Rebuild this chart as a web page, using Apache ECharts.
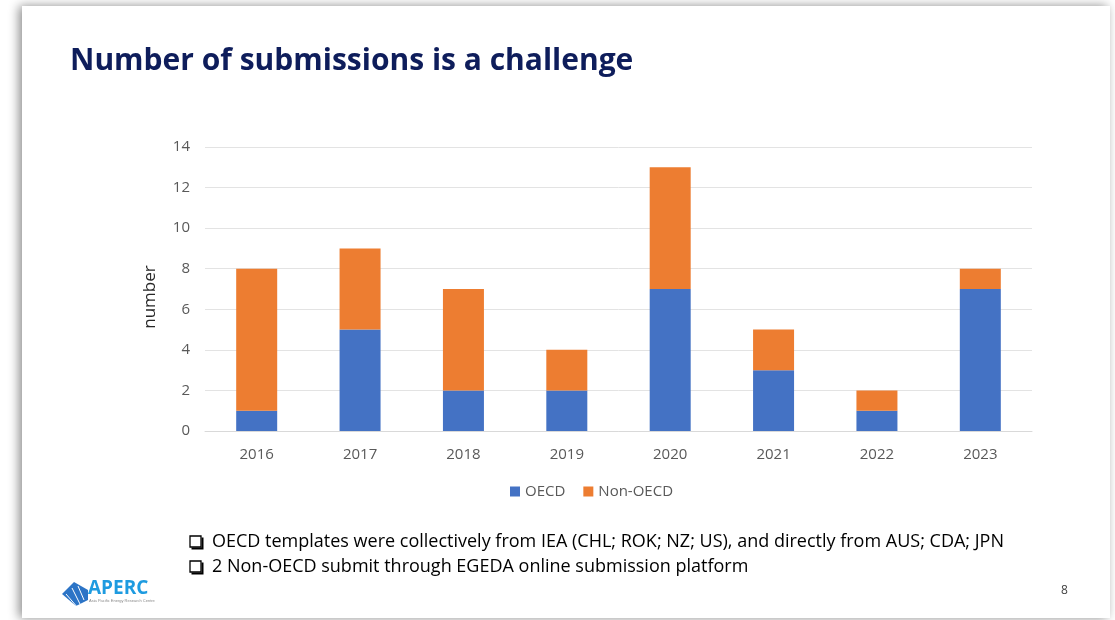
<!DOCTYPE html>
<html>
<head>
<meta charset="utf-8">
<script src="https://cdn.jsdelivr.net/npm/echarts@6/dist/echarts.min.js"></script>
<style>
html,body{margin:0;padding:0;background:#fff;}
#c{width:1115px;height:620px;}
</style>
</head>
<body>
<div id="c"></div>
<script>
const categories = ['2016','2017','2018','2019','2020','2021','2022','2023'];
const oecd = [1,5,2,2,7,3,1,7];
const nonOecd = [7,4,5,2,6,2,1,1];
const seriesNames = ['OECD','Non-OECD'];
const yAxisTitle = 'number';
const titleText = 'Number of submissions is a challenge';
const bullets = [
  'OECD templates were collectively from IEA (CHL; ROK; NZ; US), and directly from AUS; CDA; JPN',
  '2 Non-OECD submit through EGEDA online submission platform'
];
const pageNumber = '8';

const chart = echarts.init(document.getElementById('c'));
const font = '"Open Sans", "Noto Sans", sans-serif';
const graphics = [
  {type:'rect', z:-10, shape:{x:22,y:6,width:1088,height:612},
   style:{fill:'#fff', shadowColor:'rgba(0,0,0,0.45)', shadowBlur:10, shadowOffsetX:-3, shadowOffsetY:0}},
  {type:'text', left:70, top:46, style:{text:titleText, fill:'#0E1D5B', font:'bold 30px "Open Sans", sans-serif'}},
  {type:'text', x:150, y:297, rotation:Math.PI/2,
   style:{text:yAxisTitle, fill:'#262626', font:'17px "Open Sans", sans-serif', align:'center', verticalAlign:'middle'}},
  {type:'text', left:1061, top:585, style:{text:pageNumber, fill:'#404040', font:'12px "Open Sans", sans-serif'}},
  {type:'text', left:88, top:579, style:{text:'APERC', fill:'#1E9BE0', font:'bold 19px "Open Sans", sans-serif'}},
  {type:'text', left:89, top:599, style:{text:'Asia Pacific Energy Research Centre', fill:'#8a8a8a', font:'4px sans-serif'}},
  {type:'polygon', shape:{points:[[62,594],[74,582],[88,590],[88,600],[76,606]]}, style:{fill:'#1565C0', opacity:0.9}},
  {type:'polyline', shape:{points:[[66,594],[78,608]]}, style:{stroke:'#fff', lineWidth:1}},
  {type:'polyline', shape:{points:[[72,588],[80,604]]}, style:{stroke:'#fff', lineWidth:1}},
  {type:'polyline', shape:{points:[[78,586],[84,600]]}, style:{stroke:'#fff', lineWidth:1}}
];
bullets.forEach((b,i)=>{
  const y0 = 536 + i*25;
  graphics.push({type:'rect', shape:{x:190,y:y0,width:11,height:11}, style:{fill:'none', stroke:'#000', lineWidth:1.3}});
  graphics.push({type:'polyline', shape:{points:[[191.5,y0+12.5],[202.5,y0+12.5],[202.5,y0+1.5]]}, style:{stroke:'#000', lineWidth:2}});
  graphics.push({type:'text', left:212, top:y0-3, style:{text:b, fill:'#000', font:'18px "Open Sans", sans-serif'}});
});

chart.setOption({
  animation:false,
  backgroundColor:'#fff',
  textStyle:{fontFamily:font},
  grid:{left:205, right:83, top:147, bottom:189},
  legend:{
    data:seriesNames, left:505, top:479, itemWidth:10, itemHeight:10, itemGap:18,
    icon:'rect', textStyle:{color:'#595959', fontSize:15, fontFamily:font}
  },
  xAxis:{
    type:'category', data:categories,
    axisLine:{lineStyle:{color:'#D9D9D9'}}, axisTick:{show:false},
    axisLabel:{color:'#595959', fontSize:15, margin:16}
  },
  yAxis:{
    type:'value', min:0, max:14, interval:2,
    axisLine:{show:false}, axisTick:{show:false},
    splitLine:{lineStyle:{color:'#E3E3E3'}},
    axisLabel:{color:'#595959', fontSize:15, margin:15}
  },
  series:[
    {name:seriesNames[0], type:'bar', stack:'s', data:oecd, barWidth:41, itemStyle:{color:'#4472C4'}},
    {name:seriesNames[1], type:'bar', stack:'s', data:nonOecd, barWidth:41, itemStyle:{color:'#ED7D31'}}
  ],
  graphic:graphics
});
</script>
</body>
</html>
